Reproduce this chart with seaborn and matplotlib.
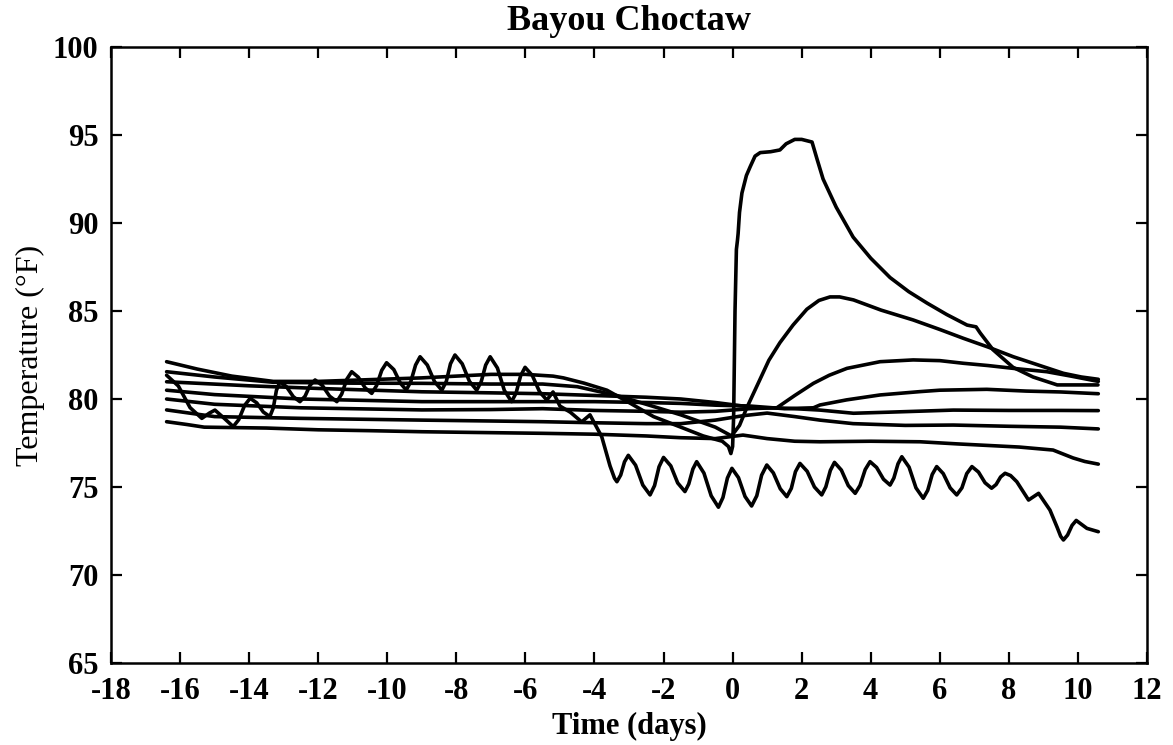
import matplotlib
matplotlib.use("Agg")
import matplotlib.pyplot as plt
import seaborn as sns
import pandas as pd

# ---------------- data ----------------
wavy_day = [-16.39, -16.05, -15.71, -15.37, -15.15, -14.99, -14.72, -14.46, -14.30, -14.13,
            -13.97, -13.78, -13.59, -13.40, -13.30, -13.21, -13.11, -12.92, -12.72, -12.53,
            -12.38, -12.24, -12.09, -11.88, -11.67, -11.46, -11.32, -11.17, -11.03, -10.84,
            -10.64, -10.45, -10.31, -10.16, -10.02, -9.81, -9.62, -9.45, -9.32, -9.18,
            -9.05, -8.84, -8.63, -8.42, -8.29, -8.17, -8.04, -7.83, -7.62, -7.41,
            -7.28, -7.15, -7.02, -6.81, -6.61, -6.40, -6.27, -6.14, -6.01, -5.80,
            -5.59, -5.38, -5.20, -5.00, -4.70, -4.37, -4.13, -3.79, -3.55, -3.42,
            -3.35, -3.24, -3.13, -3.02, -2.81, -2.60, -2.39, -2.26, -2.13, -2.00,
            -1.79, -1.59, -1.38, -1.27, -1.15, -1.04, -0.83, -0.62, -0.41, -0.28,
            -0.15, -0.02, 0.17, 0.36, 0.55, 0.70, 0.84, 0.99, 1.18, 1.38,
            1.57, 1.70, 1.82, 1.95, 2.16, 2.37, 2.58, 2.70, 2.83, 2.95,
            3.15, 3.35, 3.55, 3.69, 3.84, 3.98, 4.17, 4.37, 4.56, 4.67,
            4.79, 4.90, 5.11, 5.31, 5.52, 5.65, 5.78, 5.91, 6.10, 6.30,
            6.49, 6.64, 6.78, 6.93, 7.12, 7.31, 7.50, 7.63, 7.76, 7.89,
            8.05, 8.23, 8.57, 8.86, 9.19, 9.40, 9.50, 9.58, 9.70, 9.83,
            9.95, 10.26, 10.59]
wavy_temp = [81.35, 80.74, 79.51, 78.90, 79.20, 79.37, 78.90, 78.43, 78.83, 79.64,
             80.04, 79.78, 79.26, 79.00, 79.50, 80.49, 80.98, 80.70, 80.13, 79.85,
             80.16, 80.77, 81.08, 80.77, 80.16, 79.85, 80.28, 81.13, 81.55, 81.24,
             80.63, 80.32, 80.76, 81.63, 82.06, 81.67, 80.90, 80.51, 80.98, 81.93,
             82.40, 81.93, 80.98, 80.50, 81.00, 82.00, 82.50, 82.00, 81.00, 80.50,
             80.98, 81.93, 82.40, 81.76, 80.49, 79.85, 80.34, 81.31, 81.80, 81.34,
             80.41, 79.94, 80.40, 79.60, 79.25, 78.70, 79.10, 77.86, 76.20, 75.50,
             75.30, 75.68, 76.43, 76.80, 76.24, 75.11, 74.55, 75.08, 76.15, 76.68,
             76.20, 75.23, 74.74, 75.17, 76.02, 76.44, 75.79, 74.50, 73.85, 74.40,
             75.51, 76.06, 75.53, 74.46, 73.92, 74.50, 75.67, 76.25, 75.80, 74.90,
             74.45, 74.92, 75.87, 76.34, 75.89, 75.00, 74.55, 75.01, 75.94, 76.40,
             75.96, 75.08, 74.64, 75.09, 75.99, 76.44, 76.11, 75.44, 75.11, 75.51,
             76.32, 76.72, 76.13, 74.95, 74.36, 74.81, 75.71, 76.16, 75.76, 74.95,
             74.55, 74.95, 75.76, 76.16, 75.85, 75.24, 74.93, 75.14, 75.57, 75.78,
             75.65, 75.30, 74.26, 74.64, 73.69, 72.70, 72.20, 71.99, 72.27, 72.82,
             73.10, 72.65, 72.46]

spike_day = [-16.39, -15.5, -14.5, -13.3, -12.0, -10.5, -9.0, -8.0, -7.0, -6.0,
             -5.2, -4.9, -4.3, -3.64, -3.0, -2.29, -1.5, -0.85, -0.3, -0.12,
             -0.05, 0.0, 0.03, 0.07, 0.11, 0.14, 0.16, 0.20, 0.27, 0.40,
             0.51, 0.65, 0.80, 1.10, 1.37, 1.55, 1.80, 2.00, 2.30, 2.45,
             2.62, 3.00, 3.49, 4.00, 4.56, 5.10, 5.63, 6.20, 6.79, 7.05,
             7.17, 7.54, 8.12, 8.70, 9.40, 10.00, 10.58]
spike_temp = [82.12, 81.70, 81.30, 81.00, 81.00, 81.10, 81.20, 81.30, 81.40, 81.40,
              81.30, 81.20, 80.90, 80.50, 79.80, 79.00, 78.40, 77.90, 77.60, 77.30,
              76.90, 77.30, 79.00, 85.00, 88.50, 89.00, 89.40, 90.60, 91.70, 92.70,
              93.20, 93.80, 94.00, 94.05, 94.15, 94.50, 94.75, 94.75, 94.60, 93.60,
              92.50, 90.90, 89.20, 88.00, 86.90, 86.10, 85.45, 84.80, 84.20, 84.10,
              83.75, 82.80, 81.80, 81.25, 80.80, 80.80, 80.80]

peak86_day = [-16.39, -15.0, -13.3, -11.0, -9.0, -7.0, -5.5, -4.5, -3.36, -2.5,
              -1.5, -0.5, -0.03, 0.20, 0.41, 0.60, 0.79, 1.05, 1.37, 1.75,
              2.15, 2.50, 2.82, 3.10, 3.50, 4.30, 5.23, 6.00, 6.68, 7.40,
              8.13, 8.90, 9.58, 10.10, 10.59]
peak86_temp = [81.55, 81.25, 80.95, 80.90, 80.89, 80.85, 80.85, 80.70, 80.20, 79.70,
               79.10, 78.40, 77.90, 78.50, 79.50, 80.30, 81.10, 82.20, 83.20, 84.20,
               85.10, 85.60, 85.80, 85.80, 85.63, 85.05, 84.49, 83.95, 83.45, 82.95,
               82.40, 81.90, 81.46, 81.25, 81.12]

peak82_day = [-16.39, -14.0, -12.0, -9.0, -7.0, -5.5, -4.0, -2.5, -1.5, -0.5,
              0.3, 0.8, 1.28, 1.80, 2.34, 2.80, 3.31, 4.27, 5.23, 6.00,
              6.68, 7.40, 8.13, 9.10, 9.80, 10.59]
peak82_temp = [80.98, 80.75, 80.60, 80.41, 80.35, 80.30, 80.20, 80.10, 80.00, 79.80,
               79.60, 79.50, 79.50, 80.20, 80.89, 81.35, 81.74, 82.12, 82.22, 82.18,
               82.03, 81.90, 81.74, 81.55, 81.30, 81.00]

rise80_day = [-16.39, -15.0, -12.5, -9.0, -7.0, -5.5, -4.0, -2.5, -1.5, -0.5,
              0.5, 1.5, 2.34, 2.53, 3.30, 4.27, 5.43, 6.00, 7.36, 8.50,
              9.50, 10.59]
rise80_temp = [80.50, 80.25, 80.00, 79.85, 79.85, 79.85, 79.85, 79.80, 79.75, 79.65,
               79.60, 79.45, 79.50, 79.66, 79.95, 80.23, 80.42, 80.50, 80.55, 80.45,
               80.40, 80.30]

flat79_day = [-16.39, -15.0, -12.5, -9.0, -7.0, -5.5, -4.0, -2.5, -1.5, -0.5,
              0.5, 1.2, 1.8, 2.53, 3.5, 4.5, 6.39, 8.0, 9.5, 10.59]
flat79_temp = [80.00, 79.70, 79.50, 79.38, 79.40, 79.45, 79.35, 79.30, 79.25, 79.30,
               79.45, 79.50, 79.45, 79.37, 79.19, 79.25, 79.37, 79.35, 79.35, 79.34]

flat78_day = [-16.39, -15.0, -12.5, -9.0, -7.0, -5.5, -4.0, -2.5, -1.5, -0.5,
              0.3, 1.0, 1.8, 2.53, 3.49, 5.0, 6.39, 8.0, 9.5, 10.59]
flat78_temp = [79.38, 79.00, 78.90, 78.80, 78.75, 78.71, 78.65, 78.60, 78.60, 78.80,
               79.05, 79.20, 79.00, 78.80, 78.60, 78.50, 78.52, 78.45, 78.40, 78.30]

low76_day = [-16.39, -15.8, -15.3, -13.5, -12.0, -10.5, -9.0, -7.5, -5.5, -4.0,
             -2.5, -1.5, -0.5, 0.3, 1.0, 1.8, 2.53, 4.0, 5.43, 6.5,
             7.5, 8.3, 9.28, 9.86, 10.2, 10.59]
low76_temp = [78.71, 78.55, 78.40, 78.35, 78.25, 78.20, 78.14, 78.10, 78.05, 78.00,
              77.90, 77.80, 77.75, 77.95, 77.75, 77.60, 77.57, 77.60, 77.57, 77.45,
              77.35, 77.27, 77.10, 76.65, 76.45, 76.30]

x_ticks = [-18, -16, -14, -12, -10, -8, -6, -4, -2, 0, 2, 4, 6, 8, 10, 12]
y_ticks = [65, 70, 75, 80, 85, 90, 95, 100]
title_text = "Bayou Choctaw"
x_label = "Time (days)"
y_label = "Temperature (\u00b0F)"

# ---------------- build table ----------------
series = {
    "wavy": (wavy_day, wavy_temp),
    "spike": (spike_day, spike_temp),
    "peak86": (peak86_day, peak86_temp),
    "peak82": (peak82_day, peak82_temp),
    "rise80": (rise80_day, rise80_temp),
    "flat79": (flat79_day, flat79_temp),
    "flat78": (flat78_day, flat78_temp),
    "low76": (low76_day, low76_temp),
}
frames = []
for name, (d, t) in series.items():
    frames.append(pd.DataFrame({"day": d, "temp": t, "series": name}))
df = pd.concat(frames, ignore_index=True)

# ---------------- style ----------------
sns.set_theme(style="ticks")
plt.rcParams["font.family"] = ["Liberation Serif", "DejaVu Serif"]
plt.rcParams["axes.unicode_minus"] = False
for key in ["text.color", "axes.labelcolor", "xtick.color", "ytick.color", "axes.edgecolor"]:
    plt.rcParams[key] = "black"

fig = plt.figure(figsize=(11.73, 7.45), dpi=100)
ax = fig.add_axes([111 / 1173, 1 - 663 / 745, (1147 - 111) / 1173, (663 - 47) / 745])

sns.lineplot(data=df, x="day", y="temp", units="series", estimator=None,
             sort=False, color="black", linewidth=2.6, ax=ax, legend=False)

ax.set_xlim(-18, 12)
ax.set_ylim(65, 100)
ax.set_xticks(x_ticks)
ax.set_yticks(y_ticks)
ax.set_xticklabels([str(v) for v in x_ticks], fontsize=22, fontweight="bold")
ax.set_yticklabels([str(v) for v in y_ticks], fontsize=22, fontweight="bold")
ax.tick_params(axis="both", direction="in", length=8, width=1.6, top=True, right=True,
               colors="black")
ax.tick_params(axis="x", pad=10)
ax.tick_params(axis="y", pad=9)
for sp in ax.spines.values():
    sp.set_linewidth(1.8)
    sp.set_color("black")
    sp.set_visible(True)

ax.set_xlabel(x_label, fontsize=22, fontweight="bold", labelpad=4)
ax.set_ylabel(y_label, fontsize=23, labelpad=6)
ax.set_title(title_text, fontsize=26, fontweight="bold", pad=12)

fig.savefig("out.png", dpi=100, facecolor="white")
